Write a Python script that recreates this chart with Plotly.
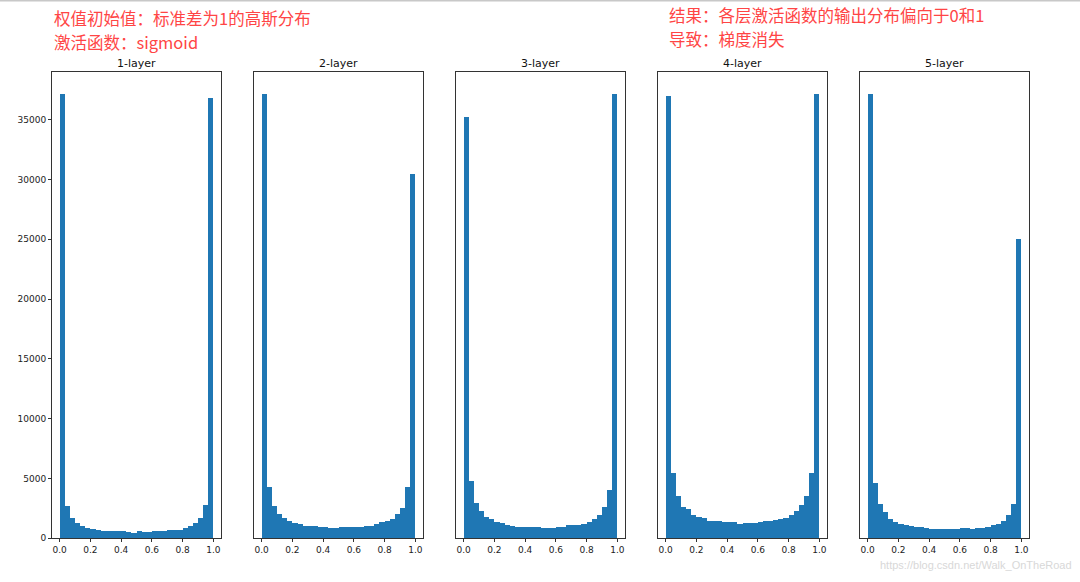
import numpy as np
import plotly.graph_objects as go

# 30 bins on [0, 1], counts
bin_edges = np.linspace(0, 1, 31)

layer_titles = ['1-layer', '2-layer', '3-layer', '4-layer', '5-layer']

layer1_counts = [37100, 2710, 1660, 1220, 995, 800, 720, 640, 580, 560,
                 560, 560, 560, 500, 430, 555, 510, 510, 555, 580,
                 610, 640, 665, 665, 830, 1020, 1220, 1690, 2760, 36750]
layer2_counts = [37050, 4230, 2710, 1990, 1660, 1380, 1270, 1160, 1020, 1000,
                 970, 910, 880, 860, 850, 880, 900, 910, 910, 920,
                 1020, 1040, 1190, 1300, 1440, 1580, 1990, 2520, 4230, 30400]
layer3_counts = [35200, 4780, 2960, 2240, 1740, 1575, 1350, 1240, 1100, 995,
                 940, 940, 910, 910, 880, 850, 850, 850, 910, 940,
                 1050, 1080, 1100, 1140, 1300, 1550, 1900, 2570, 3980, 37100]
layer4_counts = [36950, 5470, 3480, 2600, 2380, 1900, 1770, 1680, 1435, 1460,
                 1410, 1300, 1300, 1300, 1190, 1215, 1245, 1270, 1355, 1380,
                 1435, 1490, 1600, 1710, 1880, 2240, 2760, 3540, 5470, 37100]
layer5_counts = [37100, 4560, 2820, 2130, 1575, 1330, 1190, 1100, 995, 910,
                 880, 800, 775, 775, 745, 745, 745, 775, 800, 800,
                 775, 800, 860, 910, 1080, 1190, 1380, 1880, 2880, 25000]

all_counts = [layer1_counts, layer2_counts, layer3_counts, layer4_counts, layer5_counts]

centers = (bin_edges[:-1] + bin_edges[1:]) / 2
width = bin_edges[1] - bin_edges[0]

W, H = 1080, 582
panel_left = [52, 254, 456, 658, 860]
panel_w = 169
top_px, bottom_px = 73, 543

fig = go.Figure()
for i, counts in enumerate(all_counts):
    n = '' if i == 0 else str(i + 1)
    fig.add_trace(go.Bar(x=centers, y=counts, width=width,
                         marker=dict(color='#1f77b4', line=dict(width=0)),
                         xaxis='x' + n, yaxis='y' + n, showlegend=False))
    x0 = panel_left[i] / W
    x1 = (panel_left[i] + panel_w) / W
    fig.update_layout(**{
        'xaxis' + n: dict(domain=[x0, x1], anchor='y' + n, range=[-0.05, 1.05],
                          tickvals=[0, 0.2, 0.4, 0.6, 0.8, 1.0], tickformat='.1f',
                          ticks='outside', ticklen=3, tickcolor='#333',
                          showline=True, mirror=True, linecolor='#333', linewidth=1,
                          showgrid=False, zeroline=False,
                          tickfont=dict(family='DejaVu Sans', size=9, color='#222')),
        'yaxis' + n: dict(domain=[1 - bottom_px / H, 1 - top_px / H], anchor='x' + n,
                          range=[0, max(counts) * 1.05],
                          tickvals=[0, 5000, 10000, 15000, 20000, 25000, 30000, 35000] if i == 0 else [],
                          tickformat='d',
                          ticks='outside' if i == 0 else '', ticklen=3, tickcolor='#333',
                          showticklabels=(i == 0),
                          showline=True, mirror=True, linecolor='#333', linewidth=1,
                          showgrid=False, zeroline=False,
                          tickfont=dict(family='DejaVu Sans', size=9, color='#222')),
    })
    fig.add_annotation(text=layer_titles[i], x=(x0 + x1) / 2, y=1 - 64 / H,
                       xref='paper', yref='paper', xanchor='center', yanchor='middle',
                       showarrow=False,
                       font=dict(family='DejaVu Sans', size=11, color='#111'))

red = '#ff4545'
cjk = 'Noto Sans CJK SC'
notes = [('权值初始值：标准差为1的高斯分布', 52, 18.5),
         ('激活函数：sigmoid', 52, 42.5),
         ('结果：各层激活函数的输出分布偏向于0和1', 667, 15),
         ('导致：梯度消失', 667, 39)]
for txt, px, py in notes:
    fig.add_annotation(text=txt, x=px / W, y=1 - py / H, xref='paper', yref='paper',
                       xanchor='left', yanchor='middle', showarrow=False,
                       font=dict(family=cjk, size=16.5, color=red))

fig.add_annotation(text='https://blog.csdn.net/Walk_OnTheRoad', x=1074 / W, y=1 - 570 / H,
                   xref='paper', yref='paper', xanchor='right', yanchor='middle',
                   showarrow=False, font=dict(family='Liberation Sans', size=11, color='#d8d8d8'))

fig.add_shape(type='line', x0=0, x1=1, y0=1 - 0.5 / H, y1=1 - 0.5 / H, xref='paper', yref='paper',
              line=dict(color='#c8c8c8', width=2))

fig.update_layout(width=W, height=H, margin=dict(l=0, r=0, t=0, b=0),
                  plot_bgcolor='white', paper_bgcolor='white', bargap=0)
# page has an 8px body margin by default; drop it so the figure sits at (0, 0)
fig.write_html('out.html', config={'displayModeBar': False},
               post_script="document.body.style.margin='0';")
